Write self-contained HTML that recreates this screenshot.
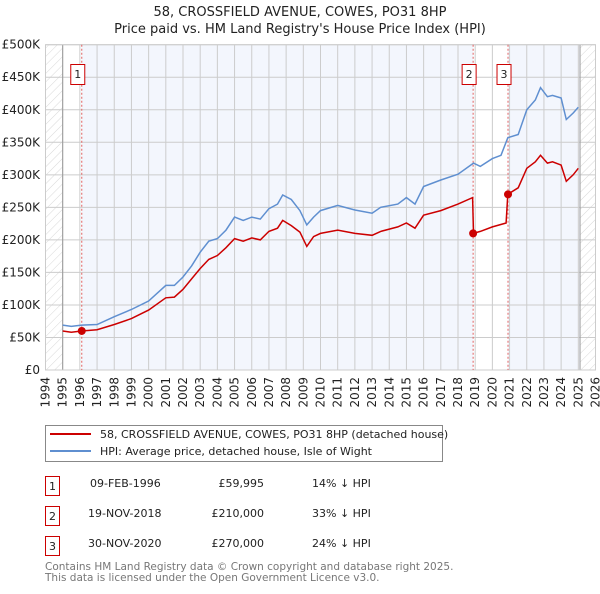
<!DOCTYPE html>
<html><head><meta charset="utf-8"><style>
body{margin:0;background:#fff;font-family:"DejaVu Sans","Liberation Sans",sans-serif;}
svg text{font-family:"DejaVu Sans","Liberation Sans",sans-serif;}
</style></head><body>
<svg id="chart" width="600" height="590" xmlns="http://www.w3.org/2000/svg">
<defs><pattern id="hatch" patternUnits="userSpaceOnUse" width="6" height="6" patternTransform="rotate(45)"><line x1="0" y1="0" x2="0" y2="6" stroke="#d8d8d8" stroke-width="1"/></pattern></defs>
<text x="300" y="16" text-anchor="middle" font-size="13" fill="#222">58, CROSSFIELD AVENUE, COWES, PO31 8HP</text>
<text x="300" y="33" text-anchor="middle" font-size="13" fill="#222">Price paid vs. HM Land Registry's House Price Index (HPI)</text>
<g id="plot"></g>
<g>
<rect x="45.5" y="425.5" width="397" height="36" fill="#fff" stroke="#888"/>
<line x1="50" y1="434" x2="91" y2="434" stroke="#cc0000" stroke-width="2"/>
<text x="100" y="438" font-size="11" fill="#222">58, CROSSFIELD AVENUE, COWES, PO31 8HP (detached house)</text>
<line x1="50" y1="451" x2="91" y2="451" stroke="#5f8fd0" stroke-width="2"/>
<text x="100" y="455" font-size="11" fill="#222">HPI: Average price, detached house, Isle of Wight</text>
</g>
<g font-size="11" fill="#222">
<rect x="45.5" y="476.5" width="14" height="19" fill="#fff" stroke="#cc0000"/><text x="52.5" y="490" text-anchor="middle">1</text>
<text x="90" y="487">09-FEB-1996</text><text x="264" y="487" text-anchor="end">£59,995</text><text x="312" y="487">14% ↓ HPI</text>
<rect x="45.5" y="506.5" width="14" height="19" fill="#fff" stroke="#cc0000"/><text x="52.5" y="520" text-anchor="middle">2</text>
<text x="88" y="517">19-NOV-2018</text><text x="264" y="517" text-anchor="end">£210,000</text><text x="312" y="517">33% ↓ HPI</text>
<rect x="45.5" y="536.5" width="14" height="19" fill="#fff" stroke="#cc0000"/><text x="52.5" y="550" text-anchor="middle">3</text>
<text x="88" y="547">30-NOV-2020</text><text x="264" y="547" text-anchor="end">£270,000</text><text x="312" y="547">24% ↓ HPI</text>
</g>
<text x="45" y="570" font-size="10.5" fill="#777">Contains HM Land Registry data © Crown copyright and database right 2025.</text>
<text x="45" y="581" font-size="10.5" fill="#777">This data is licensed under the Open Government Licence v3.0.</text>
</svg>
<script>
const hpiDates=[1995.0,1995.5,1996.1,1997,1998,1999,2000,2001,2001.5,2002,2002.5,2003,2003.5,2004,2004.5,2005,2005.5,2006,2006.5,2007,2007.5,2007.8,2008.3,2008.8,2009.2,2009.6,2010,2011,2012,2013,2013.5,2014.5,2015,2015.5,2016,2017,2018,2018.9,2019.3,2020,2020.5,2020.9,2021.5,2022,2022.5,2022.8,2023.2,2023.5,2024,2024.3,2024.7,2025.0];
const hpiValues=[69,67,69,70,82,93,106,130,130,143,160,181,198,202,215,235,230,235,232,248,255,269,262,245,223,235,245,253,246,241,250,255,265,255,282,292,301,318,313,325,330,357,362,400,415,434,420,422,418,385,395,404];
const redDates=[1995.0,1995.5,1996.1,1997,1998,1999,2000,2001,2001.5,2002,2002.5,2003,2003.5,2004,2004.5,2005,2005.5,2006,2006.5,2007,2007.5,2007.8,2008.3,2008.8,2009.2,2009.6,2010,2011,2012,2013,2013.5,2014.5,2015,2015.5,2016,2017,2018,2018.85,2018.9,2019.3,2020,2020.8,2020.9,2021.5,2022,2022.5,2022.8,2023.2,2023.5,2024,2024.3,2024.7,2025.0];
const redValues=[60,58,60,62,70,79,92,111,112,124,140,156,170,176,188,202,198,203,200,213,218,230,222,212,190,205,210,215,210,207,213,220,226,218,238,245,255,265,210,213,220,226,270,280,310,320,330,318,320,315,290,300,310];
const saleDates=[1996.11,2018.88,2020.91];
const salePrices=[59.995,210,270];
const yTicks=[0,50,100,150,200,250,300,350,400,450,500];
const yTickLabels=["£0","£50K","£100K","£150K","£200K","£250K","£300K","£350K","£400K","£450K","£500K"];
const xYears=[];for(let y=1994;y<=2026;y++)xYears.push(y);
const X0=45.5,X1=595.5,Y0=370,Y1=44.7,xmin=1994,xmax=2026,ymax=500;
const xs=t=>X0+(t-xmin)/(xmax-xmin)*(X1-X0);
const ys=v=>Y0-v/ymax*(Y0-Y1);
const NS="http://www.w3.org/2000/svg";
const g=document.getElementById('plot');
function mk(tag,attrs,parent){const e=document.createElementNS(NS,tag);for(const k in attrs)e.setAttribute(k,attrs[k]);(parent||g).appendChild(e);return e;}
let e;
e=mk('rect',{x:X0,y:Y1,width:X1-X0,height:Y0-Y1,fill:'#fff'});

e=mk('rect',{x:xs(saleDates[0]),y:Y1,width:xs(saleDates[1])-xs(saleDates[0]),height:Y0-Y1,fill:'#f3f6fd'});

e=mk('rect',{x:xs(saleDates[2]),y:Y1,width:xs(2025.1)-xs(saleDates[2]),height:Y0-Y1,fill:'#f3f6fd'});

e=mk('rect',{x:X0,y:Y1,width:xs(1995)-X0,height:Y0-Y1,fill:'url(#hatch)'});

e=mk('rect',{x:xs(2025.1),y:Y1,width:X1-xs(2025.1),height:Y0-Y1,fill:'url(#hatch)'});

yTicks.forEach((v,i)=>{
 let l=mk('line',{x1:X0,x2:X1,y1:ys(v),y2:ys(v),stroke:'#ccc','stroke-width':1});
 
 let t=mk('text',{x:40,y:ys(v)+4,'text-anchor':'end','font-size':12,fill:'#222'});t.textContent=yTickLabels[i];
 
});
xYears.forEach(yr=>{
 let l=mk('line',{x1:xs(yr),x2:xs(yr),y1:Y1,y2:Y0,stroke:'#ccc','stroke-width':1});
 
 let t=mk('text',{x:0,y:0,'text-anchor':'end','font-size':12,fill:'#222',transform:`translate(${xs(yr)+4},377) rotate(-90)`});t.textContent=yr;
 
});
e=mk('line',{x1:xs(1995),x2:xs(1995),y1:Y1,y2:Y0,stroke:'#999'});

e=mk('line',{x1:xs(2025.1),x2:xs(2025.1),y1:Y1,y2:Y0,stroke:'#999'});

e=mk('rect',{x:X0,y:Y1,width:X1-X0,height:Y0-Y1,fill:'none',stroke:'#ccc'});

saleDates.forEach((d,i)=>{
 let l=mk('line',{x1:xs(d),x2:xs(d),y1:Y1,y2:Y0,stroke:'#e06060','stroke-dasharray':'2,2','stroke-width':1});
 
 let r=mk('rect',{x:xs(d)-11,y:64.5,width:14,height:20,fill:'#fff',stroke:'#cc0000'});
 
 let t=mk('text',{x:xs(d)-4,y:78,'text-anchor':'middle','font-size':11,fill:'#222'});t.textContent=String(i+1);
 
});
const pts=(D,V)=>D.map((d,i)=>xs(d).toFixed(1)+','+ys(V[i]).toFixed(1)).join(' ');
e=mk('polyline',{points:pts(hpiDates,hpiValues),fill:'none',stroke:'#5f8fd0','stroke-width':1.5});

e=mk('polyline',{points:pts(redDates,redValues),fill:'none',stroke:'#cc0000','stroke-width':1.5});

saleDates.forEach((d,i)=>{
 let c=mk('circle',{cx:xs(d),cy:ys(salePrices[i]),r:4,fill:'#cc0000'});
 
});
</script>
</body></html>
